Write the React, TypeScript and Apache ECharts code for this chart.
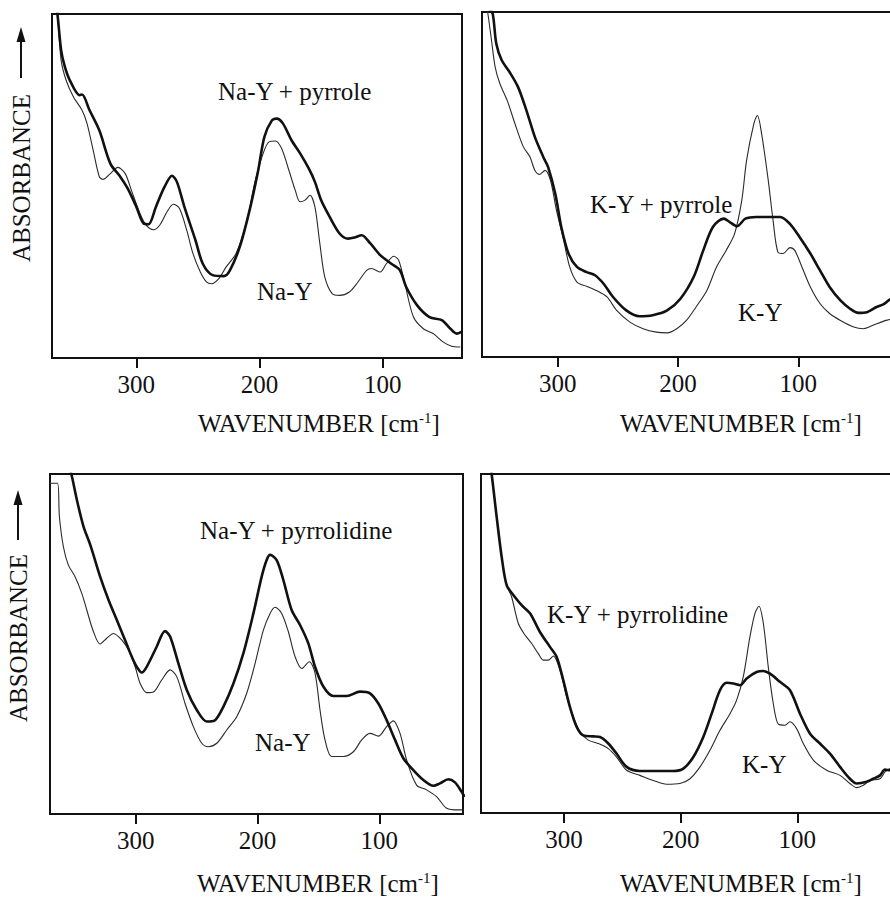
import { useEffect, useRef } from 'react';
import * as echarts from 'echarts';

type Pt = [number, number];

// Far-IR spectra: [wavenumber (cm-1), absorbance (arbitrary units, 0-100 within each panel)]

// Na-Y with and without adsorbed pyrrole
const naYPyrrole: Pt[] = [
  [366, 104], [364, 100], [361, 89.5], [358, 84.7], [354, 80.8], [346, 76.4], [344, 76.6], [338, 72.1],
  [330, 66.2], [321, 56.5], [313, 52.7], [307, 49.3], [300, 44.0], [294, 39.1], [290, 38.9], [284, 44.0],
  [277, 49.8], [271, 53.0], [267, 51.2], [261, 44.0], [252, 34.3], [246, 27.4], [238, 24.1], [229, 23.8],
  [224, 25.5], [216, 32.3], [208, 43.0], [201, 54.6], [196, 64.3], [190, 69.0], [186, 69.6], [181, 68.2],
  [174, 63.3], [167, 59.5], [160, 55.1], [155, 51.2], [150, 45.9], [143, 41.0], [135, 36.2], [128, 34.7],
  [123, 35.0], [117, 35.7], [110, 33.3], [102, 29.9], [93, 27.4], [86, 25.5], [81, 20.7], [72, 15.3],
  [62, 11.9], [52, 11.0], [45, 8.5], [40, 7.1], [36, 7.6],
];
const naYBareA: Pt[] = [
  [366, 104], [364, 100], [361, 86.6], [357, 80.8], [351, 75.9], [344, 72.0], [340, 68.2], [335, 60.4],
  [330, 52.7], [327, 51.9], [321, 53.6], [315, 55.4], [309, 53.6], [304, 48.8], [297, 42.0], [292, 38.6],
  [286, 37.3], [281, 38.6], [275, 42.5], [270, 44.7], [265, 43.5], [259, 37.1], [254, 30.4], [248, 25.0],
  [243, 22.1], [239, 21.6], [233, 23.1], [227, 26.5], [219, 30.4], [210, 40.1], [204, 50.7], [197, 59.5],
  [192, 62.9], [187, 63.1], [182, 60.9], [177, 55.6], [171, 48.8], [167, 45.4], [163, 45.9], [159, 47.3],
  [155, 43.9], [151, 33.3], [147, 23.6], [141, 18.7], [135, 18.2], [127, 19.2], [120, 22.1], [113, 25.5],
  [109, 26.0], [102, 25.0], [97, 27.4], [91, 29.6], [87, 28.4], [82, 21.6], [75, 11.9], [67, 8.5],
  [59, 7.1], [51, 4.7], [44, 3.4], [37, 3.2],
];

// K-Y with and without adsorbed pyrrole
const kYPyrrole: Pt[] = [
  [357, 101], [354, 99.5], [351, 90.8], [346.5, 86.0], [340, 82.6], [333, 78.3], [326, 71.5], [319, 63.8],
  [312, 58.0], [308, 55.1], [302, 47.3], [297, 37.7], [291, 30.0], [284, 26.1], [276, 24.6], [269, 23.7],
  [262, 21.3], [254, 17.4], [243, 13.5], [232, 11.8], [221, 12.1], [209, 13.5], [198, 16.9], [187, 23.2],
  [179, 30.9], [171, 37.7], [162, 40.1], [157, 39.1], [151, 37.9], [144, 40.1], [135, 40.6], [121, 40.6],
  [115, 40.6], [107, 38.6], [99, 34.8], [90, 30.0], [82, 25.1], [74, 20.3], [65, 16.4], [57, 14.0],
  [50, 12.8], [43, 13.0], [35, 14.5], [29, 15.3], [25, 16.4], [20, 17.5], [15, 18.5],
];
const kYBareA: Pt[] = [
  [359, 101], [358, 99.5], [355, 91.8], [352, 84.1], [348, 79.2], [342, 74.4], [335.5, 67.6], [328.5, 60.9],
  [323, 58.0], [319, 54.1], [315, 52.9], [310.5, 54.1], [306, 51.2], [301, 42.5], [295, 33.8], [290, 26.1],
  [284, 21.7], [276, 20.5], [268, 19.3], [259, 17.4], [251, 13.5], [240, 10.1], [229, 8.2], [218, 7.2],
  [209, 7.0], [201, 8.2], [193, 10.6], [185, 14.5], [176, 19.3], [168, 26.1], [160, 30.9], [153, 35.7],
  [147, 45.4], [143, 57.0], [137, 67.6], [134, 70.0], [130.5, 64.7], [125, 51.2], [121, 39.6], [117, 30.4],
  [112.5, 30.0], [107, 31.7], [103, 30.9], [97, 26.1], [90, 20.3], [82, 15.5], [74, 12.6], [65, 10.6],
  [54, 8.7], [46, 8.2], [38, 9.2], [29, 10.4], [25, 10.8], [20, 11.3], [15, 11.8],
];

// Na-Y with and without adsorbed pyrrolidine
const naYPyrrolidine: Pt[] = [
  [356, 104], [352.5, 99.4], [348.4, 92.5], [343, 84.7], [337, 78.8], [329.3, 69.9], [322.4, 63.0],
  [315.6, 57.1], [308.8, 51.2], [303.3, 46.3], [299.2, 43.3], [295, 41.6], [291, 43.3], [282.8, 49.2],
  [276, 53.8], [271.8, 52.2], [265, 44.3], [258.1, 36.5], [249.9, 30.6], [241.7, 27.2], [234.9, 27.6],
  [228, 31.6], [219.8, 38.4], [211.6, 47.3], [203.4, 59.0], [196.6, 69.8], [192.5, 74.7], [189.7, 76.2],
  [184.3, 74.7], [178.8, 68.8], [172, 60.0], [165.1, 55.6], [158.3, 50.2], [152.8, 43.3], [146, 37.5],
  [137.8, 34.7], [126.8, 34.7], [115.9, 36.0], [107.7, 35.5], [100.8, 32.5], [94, 27.6], [87.1, 21.8],
  [80.3, 16.4], [72.1, 12.9], [63.9, 10.0], [55.7, 8.3], [50.2, 9.0], [43.4, 10.2], [37.9, 9.3],
  [32.4, 6.5], [30, 5.0],
];
const naYBareB: Pt[] = [
  [371, 97.3], [364.3, 97.3], [362.7, 87.5], [359.4, 78.6], [355.3, 73.2], [349.8, 69.8], [344.3, 64.9],
  [340.2, 60.0], [334.7, 53.6], [329.3, 50.0], [323.8, 51.7], [318.3, 53.1], [311.5, 51.2], [306, 48.2],
  [300.5, 43.3], [296.4, 38.4], [291, 35.7], [285.5, 35.9], [278.7, 39.4], [271.8, 42.4], [266.3, 40.4],
  [259.5, 32.5], [252.7, 25.7], [245.8, 20.8], [240.4, 19.8], [233.5, 20.8], [225.3, 24.7], [217.1, 28.6],
  [208.9, 35.5], [202, 44.3], [195.2, 54.1], [189.7, 59.0], [185.6, 60.8], [180.2, 59.0], [174.7, 53.6],
  [169.2, 46.3], [163.7, 42.8], [157.5, 44.8], [152.8, 41.4], [148.7, 30.6], [144.6, 21.8], [139.1, 16.9],
  [129.5, 16.9], [121.3, 18.3], [114.5, 21.8], [107.7, 23.7], [100.8, 22.9], [94, 25.7], [88.5, 27.4],
  [83, 23.7], [77.6, 15.9], [69.4, 8.5], [61.2, 7.1], [53, 5.1], [44.7, 1.7], [35.2, 1.2], [31, 1.2],
];

// K-Y with and without adsorbed pyrrolidine
const kYPyrrolidine: Pt[] = [
  [364, 104], [362, 100], [357.7, 87.4], [353.4, 75.6], [349.1, 67.2], [343.4, 64.3], [336.3, 61.3],
  [329.1, 58.9], [320.6, 53.4], [312, 49.0], [306.3, 46.1], [300.6, 39.2], [294.9, 31.3], [289.1, 25.4],
  [283.4, 22.9], [274.9, 22.6], [269.1, 22.4], [262, 20.5], [254.9, 17.5], [246.3, 13.6], [234.9, 12.4],
  [220.6, 12.4], [206.3, 12.4], [197.7, 13.1], [189.1, 16.5], [180.6, 22.4], [173.4, 29.3], [166.3, 36.2],
  [160.6, 38.4], [154.9, 38.2], [149.1, 37.7], [143.4, 39.7], [134.9, 41.6], [129.1, 41.9], [123.4, 41.1],
  [114.9, 38.7], [106.3, 36.2], [97.7, 29.3], [89.1, 23.4], [80.6, 20.5], [72, 17.5], [63.4, 13.6],
  [54.9, 10.1], [49.1, 8.7], [40.6, 9.2], [34.9, 10.1], [29.1, 11.1], [24.9, 12.8], [20.6, 12.6],
  [16, 13.0], [12, 13.0],
];
const kYBareB: Pt[] = [
  [364, 104], [362, 100], [357.7, 87.4], [353.4, 75.6], [349.1, 67.2], [344.9, 63.8], [339.1, 55.9],
  [333.4, 52.5], [327.7, 50.0], [322, 47.0], [317.7, 45.1], [313.4, 45.1], [309.1, 46.3], [303.4, 42.1],
  [297.7, 34.3], [292, 28.3], [286.3, 23.9], [279.1, 21.5], [270.6, 20.5], [262, 19.0], [254.9, 16.5],
  [246.3, 12.6], [234.9, 11.1], [223.4, 9.6], [212, 8.5], [200.6, 8.7], [192, 10.1], [183.4, 13.6],
  [174.9, 18.5], [166.3, 24.4], [157.7, 29.3], [152, 33.3], [146.3, 40.2], [140.6, 52.0], [136.3, 58.9],
  [132.9, 61.0], [129.1, 55.9], [124.9, 43.1], [120.6, 32.3], [116.3, 26.2], [110.6, 25.9], [106.3, 26.9],
  [100.6, 24.9], [94.9, 20.5], [86.3, 15.6], [74.9, 12.6], [63.4, 11.1], [54.9, 8.7], [49.1, 7.5],
  [43.4, 8.2], [37.7, 9.6], [29.1, 10.1], [24.9, 12.1], [20.6, 13.1], [16, 13.3], [12, 13.3],
];

const tickValues = [100, 200, 300];
const sampleLabels = ['Na-Y + pyrrole', 'K-Y + pyrrole', 'Na-Y + pyrrolidine', 'K-Y + pyrrolidine'];
const referenceLabels = ['Na-Y', 'K-Y', 'Na-Y', 'K-Y'];
const yTitle = 'ABSORBANCE';

const FONT = 'Liberation Serif, serif';
const INK = '#111';

const panels = [
  {
    grid: { left: 52, top: 14, width: 410, height: 344 },
    range: [35.6, 368.4],
    sample: naYPyrrole, reference: naYBareA,
    sampleAt: [218, 91], referenceAt: [257, 291], titleAt: [198, 423],
  },
  {
    grid: { left: 482, top: 12, width: 418, height: 345 },
    range: [15.5, 362.9],
    sample: kYPyrrole, reference: kYBareA,
    sampleAt: [590, 204], referenceAt: [738, 312], titleAt: [620, 423],
  },
  {
    grid: { left: 50, top: 474, width: 413, height: 340 },
    range: [31.3, 370.4],
    sample: naYPyrrolidine, reference: naYBareB,
    sampleAt: [200, 530], referenceAt: [255, 742], titleAt: [197, 883],
  },
  {
    grid: { left: 481, top: 474, width: 419, height: 339 },
    range: [12.0, 371.1],
    sample: kYPyrrolidine, reference: kYBareB,
    sampleAt: [547, 614], referenceAt: [742, 764], titleAt: [620, 883],
  },
];

// vertical "ABSORBANCE ->" captions for the two rows
const yCaptions = [
  { x: 21, y: 178, arrowTop: 27, arrowBottom: 78 },
  { x: 18, y: 638, arrowTop: 490, arrowBottom: 540 },
];

function label(text: string, x: number, y: number) {
  return {
    type: 'text',
    x,
    y,
    silent: true,
    style: {
      text,
      fontSize: 25,
      fontFamily: FONT,
      fill: INK,
      align: 'left',
      textAlign: 'left',
      verticalAlign: 'middle',
      textVerticalAlign: 'middle',
    },
  };
}

function buildOption() {
  const graphic: any[] = [];
  panels.forEach((p, i) => {
    graphic.push(label(sampleLabels[i], p.sampleAt[0], p.sampleAt[1]));
    graphic.push(label(referenceLabels[i], p.referenceAt[0], p.referenceAt[1]));
    graphic.push({
      type: 'text',
      x: p.titleAt[0],
      y: p.titleAt[1],
      silent: true,
      style: {
        text: '{a|WAVENUMBER [cm}{s|-1}{a|]}',
        fill: INK,
        align: 'left',
        textAlign: 'left',
        verticalAlign: 'middle',
        textVerticalAlign: 'middle',
        rich: {
          a: { fontSize: 25, fontFamily: FONT, fill: INK },
          s: { fontSize: 15, fontFamily: FONT, fill: INK, verticalAlign: 'top' },
        },
      },
    });
  });
  yCaptions.forEach((c) => {
    graphic.push({
      type: 'text',
      x: c.x,
      y: c.y,
      rotation: Math.PI / 2,
      silent: true,
      style: {
        text: yTitle,
        fontSize: 25,
        fontFamily: FONT,
        fill: INK,
        align: 'center',
        textAlign: 'center',
        verticalAlign: 'middle',
        textVerticalAlign: 'middle',
      },
    });
    graphic.push({
      type: 'line',
      silent: true,
      shape: { x1: c.x, y1: c.arrowBottom, x2: c.x, y2: c.arrowTop + 12 },
      style: { stroke: INK, lineWidth: 2 },
    });
    graphic.push({
      type: 'polygon',
      silent: true,
      shape: { points: [[c.x, c.arrowTop], [c.x - 4.5, c.arrowTop + 15], [c.x + 4.5, c.arrowTop + 15]] },
      style: { fill: INK },
    });
  });

  return {
    animation: false,
    backgroundColor: '#fff',
    textStyle: { fontFamily: FONT },
    grid: panels.map((p) => ({
      ...p.grid,
      show: true,
      borderColor: INK,
      borderWidth: 2,
      backgroundColor: 'transparent',
      containLabel: false,
      outerBoundsMode: 'none',
    })),
    xAxis: panels.map((p, i) => ({
      type: 'value',
      gridIndex: i,
      inverse: true,
      min: p.range[0],
      max: p.range[1],
      axisLine: { show: false },
      splitLine: { show: false },
      axisTick: {
        show: true,
        inside: false,
        length: 10,
        customValues: tickValues,
        lineStyle: { color: INK, width: 2 },
      },
      axisLabel: {
        show: true,
        customValues: tickValues,
        margin: 14,
        fontSize: 25,
        fontFamily: FONT,
        color: INK,
      },
    })),
    yAxis: panels.map((_, i) => ({
      type: 'value',
      gridIndex: i,
      min: 0,
      max: 100,
      show: false,
      splitLine: { show: false },
    })),
    series: panels.flatMap((p, i) => [
      {
        type: 'line',
        xAxisIndex: i,
        yAxisIndex: i,
        data: p.reference,
        showSymbol: false,
        smooth: 0.3,
        clip: true,
        lineStyle: { color: '#2a2a2a', width: 1.1 },
        z: 2,
      },
      {
        type: 'line',
        xAxisIndex: i,
        yAxisIndex: i,
        data: p.sample,
        showSymbol: false,
        smooth: 0.3,
        clip: true,
        lineStyle: { color: INK, width: 2.6 },
        z: 3,
      },
    ]),
    graphic,
  };
}

export default function App() {
  const ref = useRef<HTMLDivElement>(null);
  useEffect(() => {
    if (!ref.current) return;
    const chart = echarts.init(ref.current, null, { renderer: 'svg' });
    chart.setOption(buildOption() as any);
    return () => chart.dispose();
  }, []);
  return (
    <div
      ref={ref}
      style={{ position: 'absolute', left: 0, top: 0, width: 890, height: 897, background: '#fff' }}
    />
  );
}
